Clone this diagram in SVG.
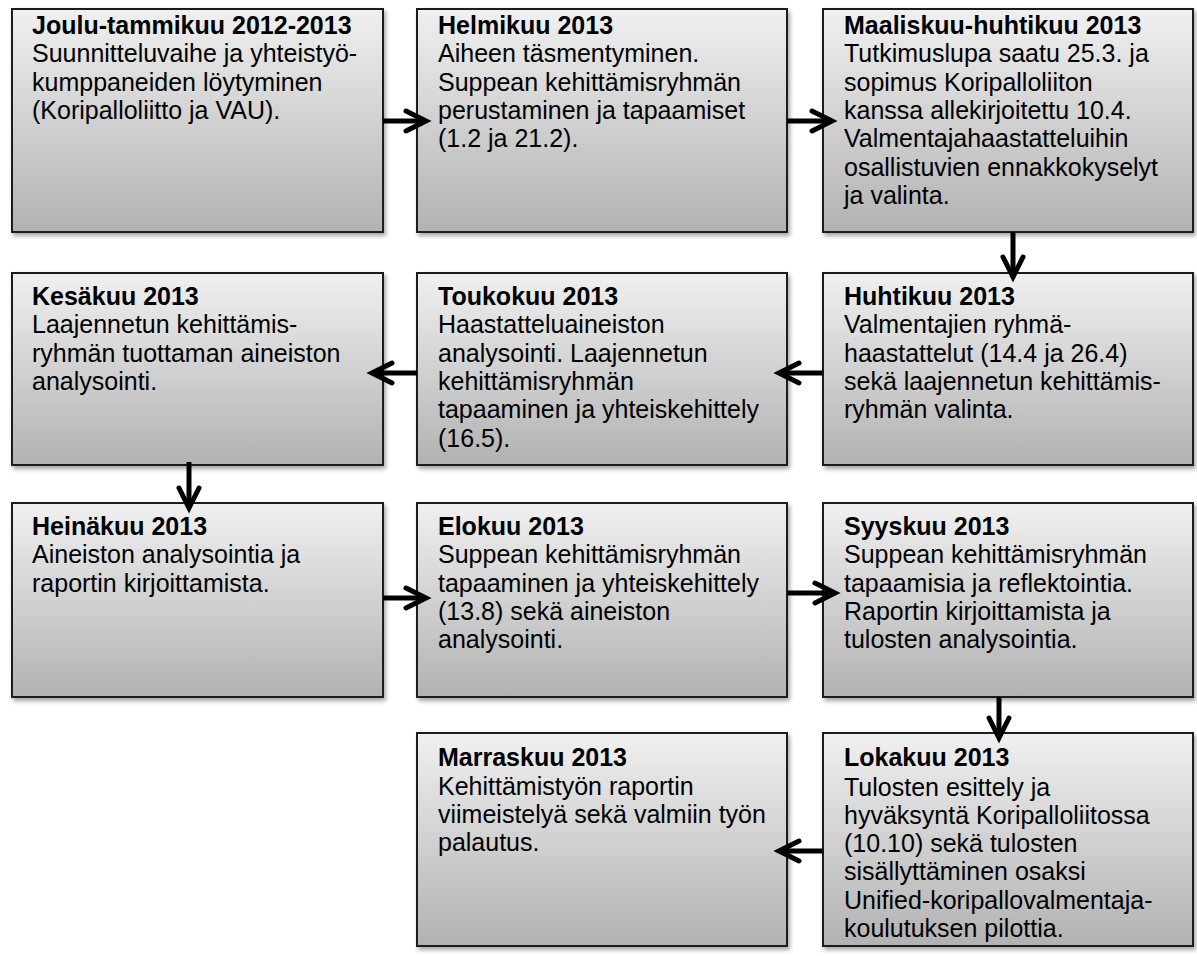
<svg xmlns="http://www.w3.org/2000/svg" width="1197" height="956" viewBox="0 0 1197 956">
<style>
.box{fill:url(#g);stroke:#1a1a1a;stroke-width:2;filter:url(#sh)}
text{font-family:"Liberation Sans",Arial,sans-serif;font-size:25px;fill:#000}
.h{font-weight:bold}
.c{stroke:#000;stroke-width:5;fill:none;stroke-linecap:butt}
.hd{stroke:#000;stroke-width:5;fill:none;stroke-linecap:round;stroke-linejoin:miter}
</style>
<defs>
<linearGradient id="g" x1="0" y1="0" x2="0" y2="1">
<stop offset="0" stop-color="#f0f0f0"/>
<stop offset="1" stop-color="#b2b2b2"/>
</linearGradient>
<filter id="sh" x="-5%" y="-5%" width="115%" height="115%">
<feDropShadow dx="2" dy="3" stdDeviation="2" flood-color="#000" flood-opacity="0.35"/>
</filter>
<marker id="ah" markerUnits="userSpaceOnUse" viewBox="-25 -15 30 30" markerWidth="30" markerHeight="30" refX="0" refY="0" orient="auto" overflow="visible">
<path d="M-20,-10 L0,0 L-20,10" class="hd"/>
</marker>
</defs>
<rect width="1197" height="956" fill="#fff"/>

<g id="n1"><rect class="box" x="12" y="9" width="371" height="223"/>
<text x="32" y="34"><tspan class="h">Joulu-tammikuu 2012-2013</tspan><tspan x="32" dy="28.3">Suunnitteluvaihe ja yhteistyö-</tspan><tspan x="32" dy="28.3">kumppaneiden löytyminen</tspan><tspan x="32" dy="28.3">(Koripalloliitto ja VAU).</tspan></text></g>

<g id="n2"><rect class="box" x="417" y="9" width="370" height="223"/>
<text x="438" y="34"><tspan class="h">Helmikuu 2013</tspan><tspan x="438" dy="28.3">Aiheen täsmentyminen.</tspan><tspan x="438" dy="28.3">Suppean kehittämisryhmän</tspan><tspan x="438" dy="28.3">perustaminen ja tapaamiset</tspan><tspan x="438" dy="28.3">(1.2 ja 21.2).</tspan></text></g>

<g id="n3"><rect class="box" x="823" y="9" width="370" height="223"/>
<text x="844" y="34"><tspan class="h">Maaliskuu-huhtikuu 2013</tspan><tspan x="844" dy="28.3">Tutkimuslupa saatu 25.3. ja</tspan><tspan x="844" dy="28.3">sopimus Koripalloliiton</tspan><tspan x="844" dy="28.3">kanssa allekirjoitettu 10.4.</tspan><tspan x="844" dy="28.3">Valmentajahaastatteluihin</tspan><tspan x="844" dy="28.3">osallistuvien ennakkokyselyt</tspan><tspan x="844" dy="28.3">ja valinta.</tspan></text></g>

<g id="n4"><rect class="box" x="12" y="273" width="371" height="192"/>
<text x="32" y="305"><tspan class="h">Kesäkuu 2013</tspan><tspan x="32" dy="28.3">Laajennetun kehittämis-</tspan><tspan x="32" dy="28.3">ryhmän tuottaman aineiston</tspan><tspan x="32" dy="28.3">analysointi.</tspan></text></g>

<g id="n5"><rect class="box" x="417" y="273" width="370" height="192"/>
<text x="438" y="305"><tspan class="h">Toukokuu 2013</tspan><tspan x="438" dy="28.3">Haastatteluaineiston</tspan><tspan x="438" dy="28.3">analysointi. Laajennetun</tspan><tspan x="438" dy="28.3">kehittämisryhmän</tspan><tspan x="438" dy="28.3">tapaaminen ja yhteiskehittely</tspan><tspan x="438" dy="28.3">(16.5).</tspan></text></g>

<g id="n6"><rect class="box" x="823" y="273" width="370" height="192"/>
<text x="844" y="305"><tspan class="h">Huhtikuu 2013</tspan><tspan x="844" dy="28.3">Valmentajien ryhmä-</tspan><tspan x="844" dy="28.3">haastattelut (14.4 ja 26.4)</tspan><tspan x="844" dy="28.3">sekä laajennetun kehittämis-</tspan><tspan x="844" dy="28.3">ryhmän valinta.</tspan></text></g>

<g id="n7"><rect class="box" x="12" y="503" width="371" height="194"/>
<text x="32" y="535"><tspan class="h">Heinäkuu 2013</tspan><tspan x="32" dy="28.3">Aineiston analysointia ja</tspan><tspan x="32" dy="28.3">raportin kirjoittamista.</tspan></text></g>

<g id="n8"><rect class="box" x="417" y="503" width="370" height="194"/>
<text x="438" y="535"><tspan class="h">Elokuu 2013</tspan><tspan x="438" dy="28.3">Suppean kehittämisryhmän</tspan><tspan x="438" dy="28.3">tapaaminen ja yhteiskehittely</tspan><tspan x="438" dy="28.3">(13.8) sekä aineiston</tspan><tspan x="438" dy="28.3">analysointi.</tspan></text></g>

<g id="n9"><rect class="box" x="823" y="503" width="370" height="194"/>
<text x="844" y="535"><tspan class="h">Syyskuu 2013</tspan><tspan x="844" dy="28.3">Suppean kehittämisryhmän</tspan><tspan x="844" dy="28.3">tapaamisia ja reflektointia.</tspan><tspan x="844" dy="28.3">Raportin kirjoittamista ja</tspan><tspan x="844" dy="28.3">tulosten analysointia.</tspan></text></g>

<g id="n10"><rect class="box" x="417" y="733" width="370" height="213"/>
<text x="438" y="766"><tspan class="h">Marraskuu 2013</tspan><tspan x="438" dy="28.8">Kehittämistyön raportin</tspan><tspan x="438" dy="28.3">viimeistelyä sekä valmiin työn</tspan><tspan x="438" dy="28.3">palautus.</tspan></text></g>

<g id="n11"><rect class="box" x="823" y="733" width="370" height="213"/>
<text x="844" y="766"><tspan class="h">Lokakuu 2013</tspan><tspan x="844" dy="29.5">Tulosten esittely ja</tspan><tspan x="844" dy="28.3">hyväksyntä Koripalloliitossa</tspan><tspan x="844" dy="28.3">(10.10) sekä tulosten</tspan><tspan x="844" dy="28.3">sisällyttäminen osaksi</tspan><tspan x="844" dy="28.3">Unified-koripallovalmentaja-</tspan><tspan x="844" dy="28.3">koulutuksen pilottia.</tspan></text></g>

<g id="connectors">
<path class="c" d="M383,121 H426" marker-end="url(#ah)"/>
<path class="c" d="M787,121 H832" marker-end="url(#ah)"/>
<path class="c" d="M1013,232 V277" marker-end="url(#ah)"/>
<path class="c" d="M823,373 H779" marker-end="url(#ah)"/>
<path class="c" d="M417,373 H372" marker-end="url(#ah)"/>
<path class="c" d="M189,462 V508" marker-end="url(#ah)"/>
<path class="c" d="M383,598 H426" marker-end="url(#ah)"/>
<path class="c" d="M787,593 H835" marker-end="url(#ah)"/>
<path class="c" d="M999,697 V738" marker-end="url(#ah)"/>
<path class="c" d="M823,851 H779" marker-end="url(#ah)"/>
</g>
</svg>
